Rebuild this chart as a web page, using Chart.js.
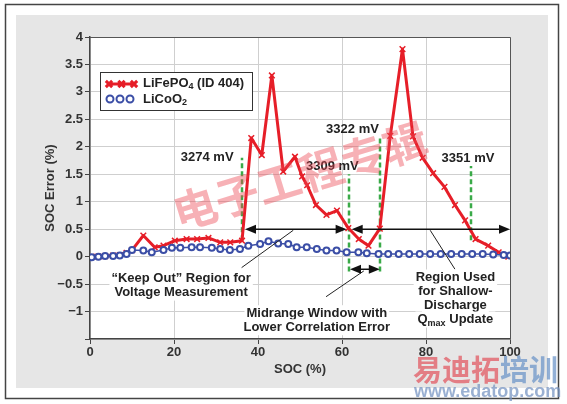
<!DOCTYPE html>
<html>
<head>
<meta charset="utf-8">
<script src="https://cdn.jsdelivr.net/npm/chart.js@4.4.0/dist/chart.umd.min.js"></script>
<style>
  html, body { margin: 0; padding: 0; background: #fff; }
  #wrap { width: 567px; height: 404px; }
</style>
</head>
<body>
<div id="wrap"><canvas id="socChart" width="567" height="404"></canvas></div>
<script>
// LiFePO4 (ID 404) SOC error vs SOC
const socFe = [0.4, 2, 3.6, 5.5, 7.1, 8.7, 10, 12.7, 15.4, 17.5, 20.2, 23, 25.5, 28.2, 31, 33.4, 36.2,
  38.4, 40.9, 43.3, 46, 48.8, 50.5, 51.7, 53.8, 56.3, 58.8, 61.5, 64, 66.3, 69,
  71.5, 74.4, 76.9, 79.2, 81.7, 84.4, 86.9, 89.3, 91.8, 94.8, 97.3, 99.6];
const errFe = [0, 0, 0.01, 0.02, 0.03, 0.07, 0.12, 0.385, 0.17, 0.2, 0.29, 0.32, 0.32, 0.34, 0.26, 0.26, 0.29,
  2.16, 1.85, 3.3, 1.55, 1.82, 1.46, 1.3, 0.94, 0.76, 0.84, 0.52, 0.32, 0.2, 0.51,
  2.2, 3.78, 2.19, 1.8, 1.52, 1.27, 0.94, 0.66, 0.32, 0.2, 0.08, 0];

// LiCoO2 SOC error vs SOC
const socCo = [0.4, 2, 3.6, 5.5, 7.1, 8.7, 10, 12.7, 14.7, 17.5, 19.5, 21.5, 24.2, 26.2, 29, 31, 33.3, 35.7,
  37.7, 40.5, 42.5, 44.8, 47.2, 49.2, 51.6, 54, 56.3, 58.7, 61.1, 63.9, 65.9, 68.7, 71, 73.5,
  76, 78.5, 81, 83.5, 86, 88.5, 91, 93.5, 96, 98.5, 100];
const errCo = [-0.01, 0, 0.01, 0.01, 0.02, 0.05, 0.12, 0.11, 0.08, 0.12, 0.16, 0.16, 0.17, 0.17, 0.16, 0.14, 0.12, 0.14,
  0.2, 0.23, 0.28, 0.24, 0.23, 0.17, 0.17, 0.14, 0.11, 0.11, 0.08, 0.08, 0.06, 0.05, 0.05, 0.05,
  0.05, 0.05, 0.05, 0.05, 0.05, 0.05, 0.05, 0.05, 0.04, 0.03, 0.02];

const yTickLabels = ['4', '3.5', '3', '2.5', '2', '1.5', '1', '0.5', '0', '\u22120.5', '\u22121', ''];

const FONT = '"Liberation Sans", Arial, sans-serif';
const RED = '#e61e28';
const BLUE = '#3b4ea6';
const GREEN = '#3aaa48';

// annotations in data units
const voltMarks = [
  { soc: 36.3, from: 0.3, to: 1.8, label: '3274 mV', lx: 27.9, ly: 1.8 },
  { soc: 61.7, from: -0.27, to: 1.5, label: '3309 mV', lx: 57.7, ly: 1.64 },
  { soc: 69, from: -0.27, to: 2.2, label: '3322 mV', lx: 62.5, ly: 2.31 },
  { soc: 90.6, from: 0.3, to: 1.65, label: '3351 mV', lx: 90, ly: 1.79 }
];
const arrows = [
  { x0: 36.9, x1: 61.1, y: 0.5 },
  { x0: 62.3, x1: 100, y: 0.5 },
  { x0: 61.9, x1: 69, y: -0.23 }
];
const leaders = [
  [36.1, -0.2, 48.4, 0.48],
  [56.2, -0.73, 65.2, -0.26],
  [81, 0.48, 86.9, -0.23]
];
const notes = [
  { x: 21.7, y: -0.4, lines: [['\u201cKeep Out\u201d Region for'], ['Voltage Measurement']] },
  { x: 54, y: -1.03, lines: [['Midrange Window with'], ['Lower Correlation Error']] },
  { x: 87, y: -0.38, lines: [['Region Used'], ['for Shallow-'], ['Discharge'], ['Q', 'max', ' Update']] }
];

// text with optional subscript parts: [normal, sub, normal, ...]
function richWidth(ctx, parts) {
  let w = 0;
  parts.forEach((p, i) => {
    ctx.font = (i % 2 ? 'bold 9px ' : 'bold 13px ') + FONT;
    w += ctx.measureText(p).width;
  });
  return w;
}
function drawRich(ctx, parts, x, y, align, bg) {
  const w = richWidth(ctx, parts);
  let cx = align === 'center' ? x - w / 2 : x;
  if (bg) {
    ctx.fillStyle = '#fff';
    ctx.fillRect(cx - 2, y - 8, w + 4, 16);
  }
  ctx.fillStyle = '#222';
  ctx.textAlign = 'left';
  ctx.textBaseline = 'middle';
  parts.forEach((p, i) => {
    ctx.font = (i % 2 ? 'bold 9px ' : 'bold 13px ') + FONT;
    ctx.fillText(p, cx, i % 2 ? y + 4 : y);
    cx += ctx.measureText(p).width;
  });
}
function arrowHead(ctx, x, y, dir) {
  ctx.beginPath();
  ctx.moveTo(x, y);
  ctx.lineTo(x - dir * 11, y - 4.5);
  ctx.lineTo(x - dir * 11, y + 4.5);
  ctx.closePath();
  ctx.fill();
}

const framePlugin = {
  id: 'frame',
  beforeDraw(chart) {
    const ctx = chart.ctx, a = chart.chartArea;
    ctx.save();
    ctx.fillStyle = '#fff';
    ctx.fillRect(0, 0, chart.width, chart.height);
    ctx.strokeStyle = '#444';
    ctx.lineWidth = 1.5;
    ctx.strokeRect(5.5, 4.5, 553, 394);
    ctx.fillStyle = '#e6e6e6';
    ctx.fillRect(16, 15, 532, 373);
    ctx.fillStyle = '#fff';
    ctx.fillRect(a.left, a.top, a.right - a.left, a.bottom - a.top);
    ctx.restore();
  },
  beforeDatasetsDraw(chart) {
    const ctx = chart.ctx, xs = chart.scales.x, ys = chart.scales.y;
    ctx.save();
    ctx.strokeStyle = GREEN;
    ctx.lineWidth = 2.5;
    ctx.setLineDash([5, 3]);
    voltMarks.forEach(m => {
      const x = Math.round(xs.getPixelForValue(m.soc));
      ctx.beginPath();
      ctx.moveTo(x, ys.getPixelForValue(m.from));
      ctx.lineTo(x, ys.getPixelForValue(m.to));
      ctx.stroke();
    });
    ctx.restore();
  },
  afterDatasetsDraw(chart) {
    const ctx = chart.ctx, a = chart.chartArea, xs = chart.scales.x, ys = chart.scales.y;
    ctx.save();
    // top and right frame of plot
    ctx.strokeStyle = '#555';
    ctx.lineWidth = 1;
    ctx.beginPath();
    ctx.moveTo(a.left, a.top + 0.5);
    ctx.lineTo(a.right + 0.5, a.top + 0.5);
    ctx.lineTo(a.right + 0.5, a.bottom);
    ctx.stroke();

    // leader lines
    ctx.strokeStyle = '#222';
    ctx.lineWidth = 1;
    leaders.forEach(l => {
      ctx.beginPath();
      ctx.moveTo(xs.getPixelForValue(l[0]), ys.getPixelForValue(l[1]));
      ctx.lineTo(xs.getPixelForValue(l[2]), ys.getPixelForValue(l[3]));
      ctx.stroke();
    });

    // double arrows
    ctx.fillStyle = '#111';
    ctx.strokeStyle = '#111';
    ctx.lineWidth = 1.5;
    arrows.forEach(r => {
      const x0 = xs.getPixelForValue(r.x0), x1 = xs.getPixelForValue(r.x1), y = ys.getPixelForValue(r.y);
      ctx.beginPath();
      ctx.moveTo(x0 + 6, y);
      ctx.lineTo(x1 - 6, y);
      ctx.stroke();
      arrowHead(ctx, x0, y, -1);
      arrowHead(ctx, x1, y, 1);
    });

    // voltage labels
    voltMarks.forEach(m => {
      drawRich(ctx, [m.label], xs.getPixelForValue(m.lx), ys.getPixelForValue(m.ly), 'center', false);
    });

    // notes
    notes.forEach(n => {
      const x = xs.getPixelForValue(n.x), y0 = ys.getPixelForValue(n.y);
      n.lines.forEach((ln, i) => drawRich(ctx, ln, x, y0 + i * 14, 'center', true));
    });

    // legend
    ctx.fillStyle = '#fff';
    ctx.fillRect(100, 72, 152, 38);
    ctx.strokeStyle = '#333';
    ctx.lineWidth = 1;
    ctx.strokeRect(100.5, 72.5, 152, 38);
    ctx.strokeStyle = RED;
    ctx.lineWidth = 3;
    ctx.beginPath();
    ctx.moveTo(108, 84);
    ctx.lineTo(135, 84);
    ctx.stroke();
    [109, 121.5, 134].forEach(x => {
      Chart.helpers.drawPoint(ctx, { pointStyle: 'crossRot', radius: 4.5, borderWidth: 2 }, x, 84);
    });
    ctx.strokeStyle = BLUE;
    ctx.lineWidth = 2;
    ctx.fillStyle = '#fff';
    [110, 120, 130].forEach(x => {
      ctx.beginPath();
      ctx.arc(x, 99, 3.5, 0, Math.PI * 2);
      ctx.fill();
      ctx.stroke();
    });
    drawRich(ctx, ['LiFePO', '4', ' (ID 404)'], 143, 83, 'left', false);
    drawRich(ctx, ['LiCoO', '2'], 143, 99, 'left', false);
    ctx.restore();
  },
  afterDraw(chart) {
    const ctx = chart.ctx;
    ctx.save();
    // watermark
    ctx.translate(300, 176);
    ctx.rotate(-17 * Math.PI / 180);
    ctx.font = 'bold 44px "Noto Sans CJK SC", sans-serif';
    ctx.fillStyle = 'rgba(236, 70, 80, 0.42)';
    ctx.textAlign = 'center';
    ctx.textBaseline = 'middle';
    ctx.fillText('电子工程专辑', 0, 0);
    ctx.restore();

    ctx.save();
    ctx.textBaseline = 'middle';
    ctx.textAlign = 'left';
    ctx.font = 'bold 29px "Noto Sans CJK SC", sans-serif';
    ctx.fillStyle = 'rgba(225, 80, 90, 0.7)';
    ctx.fillText('易迪拓', 413, 370);
    const w = ctx.measureText('易迪拓').width;
    ctx.fillStyle = 'rgba(110, 150, 200, 0.75)';
    ctx.fillText('培训', 413 + w, 370);
    ctx.font = 'bold 18px ' + FONT;
    ctx.fillStyle = 'rgba(120, 150, 195, 0.75)';
    ctx.fillText('www.edatop.com', 414, 392);
    ctx.restore();
  }
};

Chart.defaults.font.family = FONT;
Chart.defaults.color = '#333';

const ctx = document.getElementById('socChart').getContext('2d');
const socChart = new Chart(ctx, {
  type: 'line',
  data: {
    datasets: [{
      label: 'LiFePO4 (ID 404)',
      data: socFe.map((s, i) => ({ x: s, y: errFe[i] })),
      borderColor: RED,
      backgroundColor: RED,
      borderWidth: 3,
      borderJoinStyle: 'round',
      pointStyle: 'crossRot',
      pointRadius: 4,
      pointBorderWidth: 1.5,
      pointBorderColor: RED,
      tension: 0,
      order: 1
    }, {
      label: 'LiCoO2',
      data: socCo.map((s, i) => ({ x: s, y: errCo[i] })),
      borderColor: BLUE,
      backgroundColor: '#fff',
      borderWidth: 1.5,
      borderJoinStyle: 'round',
      pointStyle: 'circle',
      pointRadius: 3,
      pointBorderWidth: 2,
      pointBorderColor: BLUE,
      pointBackgroundColor: '#fff',
      tension: 0,
      order: 0
    }]
  },
  options: {
    responsive: false,
    animation: false,
    events: [],
    layout: { padding: { left: 16, top: 37, right: 57, bottom: 20 } },
    plugins: {
      legend: { display: false },
      tooltip: { enabled: false }
    },
    scales: {
      x: {
        type: 'linear',
        min: 0,
        max: 100,
        afterFit: s => { s.height = 45; },
        ticks: { stepSize: 20, padding: 1, font: { size: 13, weight: 'bold' }, color: '#333' },
        grid: { color: '#cfcfcf', tickColor: '#444', tickLength: 5 },
        border: { color: '#444', width: 1.5 },
        title: { display: true, text: 'SOC (%)', font: { size: 13, weight: 'bold' }, color: '#333', padding: { top: 0, bottom: 7 } }
      },
      y: {
        min: -1.5,
        max: 4,
        afterFit: s => { s.width = 74; },
        afterBuildTicks: s => { s.ticks.forEach(t => { t.value = Math.round(t.value * 2) / 2; }); },
        ticks: {
          stepSize: 0.5,
          padding: 2,
          font: { size: 13, weight: 'bold' },
          color: '#333',
          callback: (v, i) => yTickLabels[yTickLabels.length - 1 - i]
        },
        grid: { color: '#cfcfcf', tickColor: '#444', tickLength: 5 },
        border: { color: '#444', width: 1.5 },
        title: { display: true, text: 'SOC Error (%)', font: { size: 13, weight: 'bold' }, color: '#333', padding: { top: 27, bottom: 0 } }
      }
    }
  },
  plugins: [framePlugin]
});
</script>
</body>
</html>
